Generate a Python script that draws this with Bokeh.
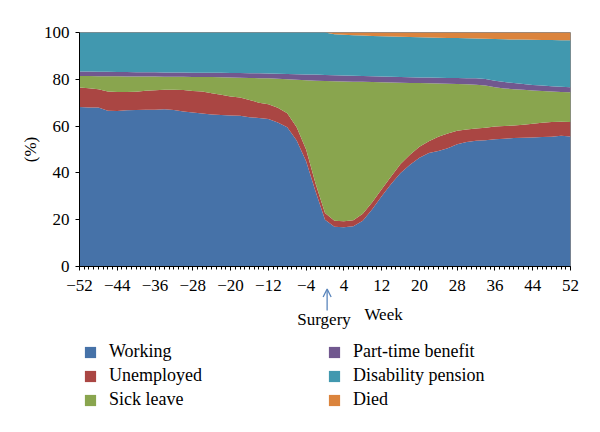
from bokeh.plotting import figure
from bokeh.layouts import column
from bokeh.models import (ColumnDataSource, Range1d, FixedTicker, Legend, LegendItem,
                          Label, Arrow, OpenHead)
from bokeh.embed import file_html
from bokeh.resources import INLINE

weeks = [-52, -50, -48, -46, -44, -42, -40, -38, -36, -34,
         -32, -30, -28, -26, -24, -22, -20, -18, -16, -14,
         -12, -10, -8, -6, -4, -2, 0, 2, 4, 6,
         8, 10, 12, 14, 16, 18, 20, 22, 24, 26,
         28, 30, 32, 34, 36, 38, 40, 42, 44, 46,
         48, 50, 52]

working = [68.2, 68.0, 67.9, 66.6, 66.5, 66.8, 66.9, 67.0, 67.0, 67.2,
           66.9, 66.2, 65.8, 65.4, 65.0, 64.7, 64.5, 64.4, 63.8, 63.5,
           63.0, 61.5, 59.5, 53.8, 45.0, 32.0, 20.0, 17.0, 16.8, 17.2,
           19.5, 24.5, 30.0, 35.3, 40.0, 43.5, 46.5, 48.5, 49.4, 50.5,
           52.2, 53.2, 53.7, 54.0, 54.4, 54.6, 54.9, 55.0, 55.1, 55.3,
           55.5, 55.9, 55.6]
unemployed = [8.3, 8.2, 7.9, 8.2, 8.1, 7.8, 7.8, 8.1, 8.3, 8.3,
              8.6, 9.2, 9.2, 9.4, 9.0, 8.7, 8.2, 7.8, 7.4, 6.5,
              6.3, 6.3, 6.0, 5.7, 5.0, 3.5, 2.9, 2.5, 2.5, 2.6,
              3.0, 3.0, 3.0, 3.2, 3.8, 4.3, 4.7, 5.0, 6.1, 6.3,
              5.8, 5.3, 5.3, 5.3, 5.4, 5.4, 5.4, 5.6, 5.9, 6.1,
              6.2, 6.0, 6.1]
sick_leave = [4.9, 5.2, 5.5, 6.5, 6.7, 6.6, 6.5, 6.1, 5.9, 5.6,
              5.6, 5.7, 6.0, 6.2, 7.0, 7.5, 8.1, 8.5, 9.4, 10.5,
              11.1, 12.4, 14.5, 20.3, 29.6, 43.9, 56.4, 59.7, 59.8, 59.2,
              56.4, 51.3, 45.7, 40.1, 34.7, 30.6, 27.2, 24.8, 22.7, 21.3,
              20.0, 19.4, 18.7, 18.1, 16.8, 16.1, 15.5, 14.9, 14.2, 13.6,
              13.1, 12.7, 12.8]
part_time = [1.9, 1.9, 1.9, 1.9, 1.8, 1.9, 1.8, 1.8, 1.8, 1.8,
             1.8, 1.8, 1.8, 1.8, 1.8, 1.9, 1.9, 2.0, 2.0, 2.1,
             2.1, 2.2, 2.3, 2.4, 2.5, 2.6, 2.5, 2.5, 2.5, 2.5,
             2.5, 2.5, 2.5, 2.5, 2.5, 2.5, 2.4, 2.5, 2.5, 2.5,
             2.6, 2.6, 2.7, 2.7, 2.8, 2.7, 2.6, 2.5, 2.4, 2.3,
             2.2, 2.2, 2.1]
disability = [16.7, 16.7, 16.8, 16.8, 16.9, 16.9, 17.0, 17.0, 17.0, 17.1,
              17.1, 17.1, 17.2, 17.2, 17.2, 17.2, 17.3, 17.3, 17.4, 17.4,
              17.5, 17.6, 17.7, 17.8, 17.9, 18.0, 18.2, 17.6, 17.4, 17.3,
              17.3, 17.2, 17.2, 17.2, 17.2, 17.2, 17.2, 17.1, 17.1, 17.1,
              17.0, 17.0, 17.0, 17.2, 17.8, 18.3, 18.6, 19.0, 19.3, 19.5,
              19.8, 19.9, 20.1]
died = [0, 0, 0, 0, 0, 0, 0, 0, 0, 0,
        0, 0, 0, 0, 0, 0, 0, 0, 0, 0,
        0, 0, 0, 0, 0, 0, 0, 0.7, 1.0, 1.2,
        1.3, 1.5, 1.6, 1.7, 1.8, 1.9, 2.0, 2.1, 2.2, 2.3,
        2.4, 2.5, 2.6, 2.7, 2.8, 2.9, 3.0, 3.0, 3.1, 3.2,
        3.2, 3.3, 3.3]

series_names = ["Working", "Unemployed", "Sick leave", "Part-time benefit",
                "Disability pension", "Died"]
series_keys = ["working", "unemployed", "sick_leave", "part_time", "disability", "died"]
colors = ["#4672A8", "#AA4643", "#89A54E", "#71588F", "#4198AF", "#DB843D"]

x_major = [-52, -44, -36, -28, -20, -12, -4, 4, 12, 20, 28, 36, 44, 52]
y_major = [0, 20, 40, 60, 80, 100]

FONT = "Liberation Serif"

source = ColumnDataSource(dict(week=weeks, working=working, unemployed=unemployed,
                               sick_leave=sick_leave, part_time=part_time,
                               disability=disability, died=died))

# ---------------- main chart ----------------
H1 = 300
xr = Range1d(-52, 52)
p = figure(width=584, height=H1, output_backend="svg", toolbar_location=None,
           x_range=xr, y_range=Range1d(0, 100),
           min_border_left=79, min_border_right=14, min_border_top=32,
           min_border_bottom=H1 - 32 - 234)

renderers = p.varea_stack(stackers=series_keys, x="week", color=colors, source=source)

p.xgrid.visible = False
p.ygrid.visible = False
p.outline_line_color = "#8a8a8a"
p.outline_line_width = 1
p.background_fill_color = "white"
p.border_fill_color = "white"

xa = p.xaxis[0]
xa.ticker = FixedTicker(ticks=x_major, minor_ticks=list(range(-52, 53)))
xa.major_label_overrides = {t: str(t).replace("-", "\u2212") for t in x_major}
xa.major_label_text_font = FONT
xa.major_label_text_font_size = "17px"
xa.major_label_text_color = "black"
xa.major_tick_out = 4
xa.major_tick_in = 0
xa.minor_tick_out = 3
xa.minor_tick_in = 0
xa.major_label_standoff = 9
xa.axis_line_color = "black"
xa.major_tick_line_color = "black"
xa.minor_tick_line_color = "black"

ya = p.yaxis[0]
ya.ticker = FixedTicker(ticks=y_major)
ya.major_label_text_font = FONT
ya.major_label_text_font_size = "17px"
ya.major_label_text_color = "black"
ya.major_tick_out = 4
ya.major_tick_in = 0
ya.minor_tick_line_color = None
ya.major_label_standoff = 6
ya.axis_line_color = "black"
ya.major_tick_line_color = "black"
ya.axis_label = "(%)"
ya.axis_label_text_font = FONT
ya.axis_label_text_font_size = "17px"
ya.axis_label_text_font_style = "normal"
ya.axis_label_text_color = "black"
ya.axis_label_standoff = 1

# ---------------- lower panel: annotation + legend ----------------
TOP2 = 286          # page y where the lower panel starts (overlaps chart border)
H2 = 416 - TOP2
q = figure(width=584, height=H2, output_backend="svg", toolbar_location=None,
           x_range=xr, y_range=Range1d(TOP2 + H2, TOP2),
           x_axis_type=None, y_axis_type=None,
           min_border_left=79, min_border_right=14, min_border_top=0, min_border_bottom=0)
q.xgrid.visible = False
q.ygrid.visible = False
q.outline_line_color = None
q.background_fill_color = None
q.border_fill_color = None
q.margin = (TOP2 - H1, 0, 0, 0)

q.add_layout(Arrow(x_start=0.45, y_start=310, x_end=0.45, y_end=288.5,
                   line_color="#5B86BC", line_width=1.3,
                   end=OpenHead(size=8, line_color="#5B86BC", line_width=1.3)))
q.add_layout(Label(x=12.4, y=314, text="Week", text_font=FONT, text_font_size="17px",
                   text_align="center", text_baseline="middle", text_color="black"))
q.add_layout(Label(x=-0.2, y=318.5, text="Surgery", text_font=FONT, text_font_size="17px",
                   text_align="center", text_baseline="middle", text_color="black"))

# legend proxies: the same stacked series, falling outside this panel's visible range
legend_renderers = q.varea_stack(stackers=series_keys, x="week", color=colors, source=source)
items = [LegendItem(label=n, renderers=[r]) for n, r in zip(series_names, legend_renderers)]
for grp, xloc in ((items[:3], 4), (items[3:], 248)):
    lg = Legend(items=grp, location=(xloc, 6), orientation="vertical",
                label_text_font=FONT, label_text_font_size="18px", label_text_color="black",
                glyph_width=14, glyph_height=14, label_standoff=12, label_height=20,
                spacing=3, padding=0, margin=0, border_line_alpha=0,
                background_fill_alpha=0)
    q.add_layout(lg, "center")

layout = column(p, q, spacing=0)
open("out.html", "w").write(file_html(layout, INLINE))
